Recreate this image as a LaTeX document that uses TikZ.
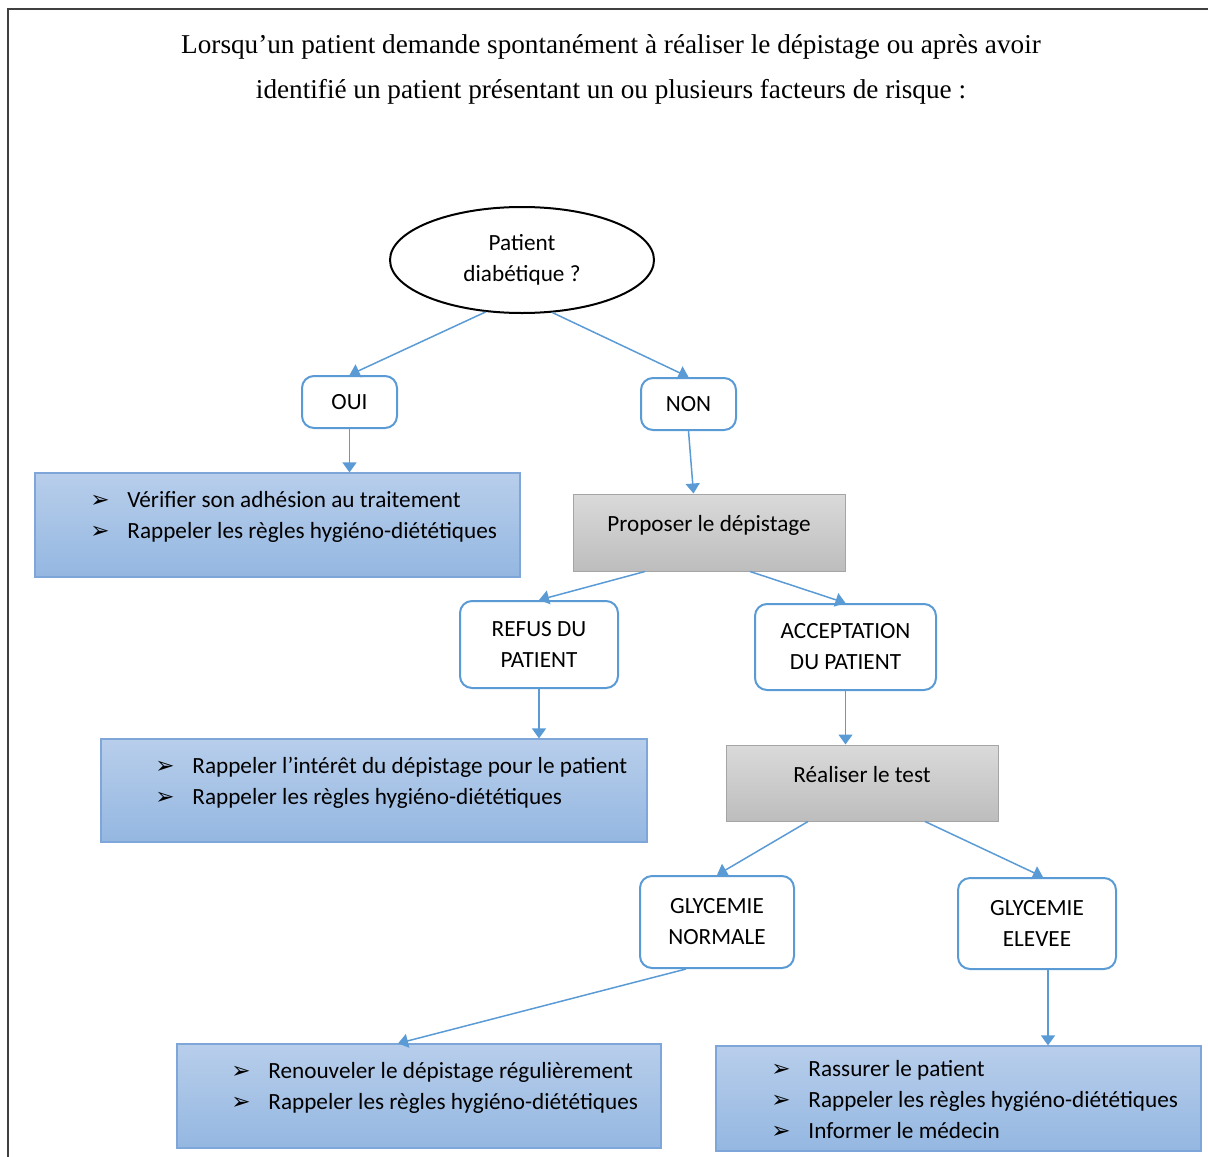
\documentclass[tikz,border=0pt]{standalone}
\usepackage{fontspec}
\setmainfont{Carlito}
\newfontfamily\titrefont{Liberation Serif}
\newfontfamily\symbfont{DejaVu Sans}
\usetikzlibrary{arrows.meta,shapes.geometric,calc}

\definecolor{lienbleu}{RGB}{91,155,213}
\definecolor{bordbleu}{RGB}{126,166,216}
\definecolor{hautbleu}{RGB}{184,206,235}
\definecolor{basbleu}{RGB}{148,183,225}
\definecolor{bordgris}{RGB}{165,165,165}
\definecolor{hautgris}{RGB}{218,218,218}
\definecolor{basgris}{RGB}{189,189,189}
\definecolor{cadregris}{RGB}{64,64,64}

\newcommand{\puce}{\makebox[18.5pt][l]{\symbfont\fontsize{11.5}{12}\selectfont ➢}}

\begin{document}
\begin{tikzpicture}[x=0.5pt,y=-0.5pt,
    texte/.style={font=\fontsize{11.6}{15.5}\selectfont},
    choix/.style={
      texte,
      draw=lienbleu,
      line width=1pt,
      rounded corners=6pt,
      fill=white,
      align=center,
      inner sep=0pt
    },
    action/.style={
      draw=bordbleu,
      line width=0.6pt,
      top color=hautbleu,
      bottom color=basbleu,
      shape=rectangle,
      inner sep=0pt
    },
    etape/.style={
      texte,
      draw=bordgris,
      line width=0.5pt,
      top color=hautgris,
      bottom color=basgris,
      shape=rectangle,
      align=center,
      text depth=9pt
    },
    liste/.style={texte, align=left, anchor=west, inner sep=0pt},
    lien/.style={draw=lienbleu, line width=0.75pt, -{Triangle[width=7pt,length=5pt]}}
    ]
    \useasboundingbox (0,0) rectangle (1208,1156);
    \draw[cadregris, line width=1.25pt] (8,9) rectangle (1230,1180);

    \node[align=center, font=\titrefont\fontsize{13.6}{22.5}\selectfont] (Titre) at (611,69)
      {Lorsqu’un patient demande spontanément à réaliser le dépistage ou après avoir\\
       identifié un patient présentant un ou plusieurs facteurs de risque :};

    \node[texte, draw, ellipse, line width=1pt, minimum width=132pt, minimum height=53pt, align=center] (Diab) at (522,260)
      {Patient\\diabétique ?};
    \node[choix, minimum width=47.5pt, minimum height=26pt] (Oui) at (349.5,402) {OUI};
    \node[choix, minimum width=47.5pt, minimum height=26pt] (Non) at (688.5,404) {NON};

    \node[action, minimum width=242.5pt, minimum height=52pt] (R1) at (277.5,525) {};
    \node[liste] (T1) at (90,516.5)
      {\puce Vérifier son adhésion au traitement\\ \puce Rappeler les règles hygiéno-diététiques};

    \node[etape, minimum width=136pt, minimum height=38.5pt] (Prop) at (709,532.5) {Proposer le dépistage};
    \node[choix, minimum width=79pt, minimum height=43.5pt] (Refus) at (539,644.5) {REFUS DU\\PATIENT};
    \node[choix, minimum width=90.5pt, minimum height=43pt] (Accept) at (845.5,647) {ACCEPTATION\\DU PATIENT};

    \node[action, minimum width=273pt, minimum height=51.5pt] (R2) at (374,790.5) {};
    \node[liste] (T2) at (155,782.5)
      {\puce Rappeler l’intérêt du dépistage pour le patient\\ \puce Rappeler les règles hygiéno-diététiques};

    \node[etape, minimum width=136pt, minimum height=38pt] (Test) at (862,783) {Réaliser le test};
    \node[choix, minimum width=77pt, minimum height=46pt] (Norm) at (717,922) {GLYCEMIE\\NORMALE};
    \node[choix, minimum width=79pt, minimum height=45.5pt] (Elev) at (1037,923.5) {GLYCEMIE\\ELEVEE};

    \node[action, minimum width=242pt, minimum height=52pt] (R3) at (419,1096) {};
    \node[liste] (T3) at (231,1087.5)
      {\puce Renouveler le dépistage régulièrement\\ \puce Rappeler les règles hygiéno-diététiques};

    \node[action, minimum width=242.5pt, minimum height=52.5pt] (R4) at (958.5,1098.5) {};
    \node[liste] (T4) at (771,1100)
      {\puce Rassurer le patient\\ \puce Rappeler les règles hygiéno-diététiques\\ \puce Informer le médecin};

    \draw[lien] (Diab.235) -- (Oui.north);
    \draw[lien] (Diab.300) -- (Non.north);
    \draw[lien] (Oui.south) -- (Oui.south |- R1.north);
    \draw[lien] (Non.south) -- ($(Non.south |- Prop.north)+(5,0)$);
    \draw[lien] ($(Prop.south)+(-64,0)$) -- (Refus.north);
    \draw[lien] ($(Prop.south)+(41,0)$) -- (Accept.north);
    \draw[lien] (Refus.south) -- (Refus.south |- R2.north);
    \draw[lien] (Accept.south) -- (Accept.south |- Test.north);
    \draw[lien] ($(Test.south)+(-54,0)$) -- (Norm.north);
    \draw[lien] ($(Test.south)+(63,0)$) -- ($(Elev.north)+(6,0)$);
    \draw[lien] ($(Norm.south)+(-31,0)$) -- ($(R3.north)+(-21,0)$);
    \coordinate (E1) at ($(Elev.south)+(11,0)$);
    \draw[lien] (E1) -- (E1 |- R4.north);
  \end{tikzpicture}
\end{document}
